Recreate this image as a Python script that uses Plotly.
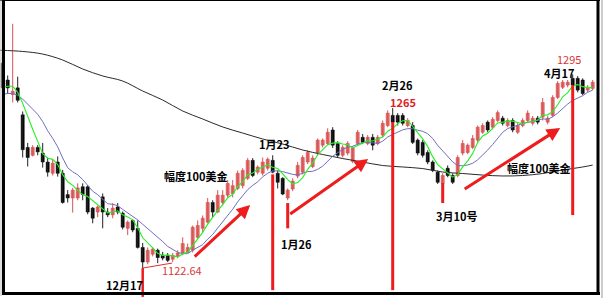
import plotly.graph_objects as go
import pandas as pd

W, H = 607, 298

# ---------------- data ----------------
opens = [1305, 1290, 1277, 1283, 1259, 1230, 1223, 1230, 1225, 1217,
         1207, 1217, 1207, 1188, 1185, 1185, 1195, 1195, 1176, 1172.5,
         1186, 1172.5, 1170, 1177, 1171.5, 1158, 1165, 1158, 1141, 1128,
         1135, 1138.5, 1134, 1134, 1130.5, 1133, 1136, 1136.5, 1138.5, 1150,
         1158, 1163.5, 1181, 1172.5, 1181, 1187.5, 1189, 1193.5, 1196, 1202.5,
         1218.5, 1208, 1207, 1211.5, 1218.5, 1207, 1202.5, 1185, 1193, 1204.5,
         1208, 1217, 1213, 1225, 1232, 1233.5, 1245.5, 1233.5, 1223, 1225,
         1217.5, 1233.5, 1239, 1233.5, 1239, 1233.5, 1241, 1249.5, 1258.5, 1258.5,
         1258.5, 1249.5, 1249.5, 1236.5, 1234.5, 1225.5, 1217, 1208, 1198, 1211.5,
         1205, 1205, 1225, 1225.5, 1230, 1236.5, 1243.5, 1252.5, 1248, 1254,
         1256, 1249.5, 1254, 1243.5, 1249.5, 1254, 1251.5, 1256, 1257, 1252.5,
         1258.5, 1274.5, 1283.5, 1285.5, 1291.5, 1291.5, 1290, 1281, 1282.5]
highs = [1308, 1294, 1340, 1293, 1262, 1234, 1232, 1232, 1234, 1221,
         1219, 1222, 1210, 1192, 1194, 1198, 1198, 1196.5, 1177, 1178.5,
         1189, 1176, 1180.5, 1180.5, 1173, 1165, 1166, 1165, 1145, 1141,
         1141, 1140, 1137, 1136, 1136, 1138.5, 1150, 1144.5, 1160.5, 1165,
         1169.5, 1185, 1183, 1192, 1192, 1201, 1201, 1209.5, 1211.5, 1220.5,
         1220.5, 1214, 1221, 1221, 1223, 1209.5, 1203.5, 1193.5, 1202.5, 1217,
         1223, 1227.5, 1223, 1238, 1238, 1247, 1248, 1235.5, 1232, 1235.5,
         1231, 1245.5, 1242, 1241, 1242, 1241, 1254, 1263, 1265, 1260.5,
         1260.5, 1256, 1252.5, 1238, 1236.5, 1227.5, 1218.5, 1209.5, 1207, 1214,
         1207, 1223, 1236.5, 1233.5, 1241, 1249.5, 1251.5, 1254, 1257, 1263,
         1258, 1256, 1256, 1251.5, 1256, 1263, 1258, 1258, 1274, 1258,
         1276.5, 1289, 1290, 1290, 1295, 1293.5, 1291.5, 1285.5, 1290]
lows = [1279, 1278, 1270, 1270, 1221, 1213, 1222, 1223, 1212, 1204,
        1205, 1204, 1180, 1181, 1172, 1183, 1183, 1170.5, 1162.5, 1168,
        1158, 1168, 1167, 1170.5, 1157, 1152, 1154.5, 1140, 1122.64, 1126,
        1133, 1127, 1129.5, 1128, 1128, 1131.5, 1134, 1136, 1136.5, 1149,
        1154.5, 1162.5, 1168, 1171.5, 1178.5, 1185, 1185.5, 1192, 1193.5, 1201,
        1203.5, 1206, 1205, 1209.5, 1207, 1193.5, 1187.5, 1183, 1191, 1202.5,
        1206, 1215, 1211.5, 1223, 1230, 1232, 1229.5, 1221, 1221, 1223,
        1216, 1232, 1233, 1232, 1227.5, 1232, 1239, 1248, 1249.5, 1249.5,
        1249.5, 1248, 1233, 1223, 1221, 1215, 1208, 1197.5, 1196.5, 1203.5,
        1197.5, 1203.5, 1223, 1224, 1228.5, 1234.5, 1242, 1243.5, 1246, 1252.5,
        1249.5, 1248, 1243.5, 1242, 1248, 1252.5, 1249.5, 1250.5, 1254, 1250.5,
        1257, 1273, 1282, 1283.5, 1283.5, 1279, 1276.5, 1279, 1281]
closes = [1283, 1283, 1280, 1272, 1228, 1221, 1230, 1226, 1217, 1208,
          1216, 1207, 1181, 1185, 1192, 1194, 1188, 1172.5, 1167, 1177,
          1172.5, 1170, 1176, 1172.5, 1159, 1163.5, 1156.5, 1141, 1128, 1138.5,
          1139.5, 1132, 1131.5, 1129.5, 1134, 1136, 1144.5, 1141, 1159, 1160.5,
          1167, 1181, 1172.5, 1187.5, 1187.5, 1198, 1196, 1207, 1209.5, 1218.5,
          1205, 1212.5, 1217, 1219.5, 1208, 1199, 1188.5, 1192, 1200, 1214,
          1221, 1225.5, 1220.5, 1236.5, 1236.5, 1243.5, 1232, 1223, 1230, 1233.5,
          1229.5, 1243.5, 1234.5, 1239, 1232, 1239, 1251.5, 1260.5, 1252.5, 1252.5,
          1251.5, 1254, 1234.5, 1225, 1223, 1217, 1209.5, 1199, 1205, 1205,
          1199, 1221, 1233.5, 1232, 1238, 1248, 1249.5, 1245.5, 1255, 1261,
          1251.5, 1254, 1245.5, 1249.5, 1254, 1260.5, 1256, 1252.5, 1270, 1256,
          1274.5, 1287, 1288, 1288, 1285.5, 1281, 1278, 1283.5, 1288]

# moving-average values visible before a full window exists
ma5_head = [1283.5, 1284.5, 1284.5, 1279]
ma10_head = [1277.3, 1278, 1278, 1276.5, 1273, 1268.5, 1264, 1259.5, 1253]

# long moving average (black line), read at sample candles
ma_long_idx = [-0.5, 4, 8, 12, 16, 20, 24, 28, 32, 36, 40, 44, 48, 52, 56, 60,
               64, 68, 72, 76, 80, 84, 88, 92, 96, 100, 104, 108, 112, 116, 118]
ma_long_val = [1316.5, 1315.4, 1313.1, 1307.8, 1299.8, 1293.6, 1289.1, 1280.2,
               1272.2, 1262.4, 1255.3, 1248.2, 1242.8, 1237.5, 1233, 1227.7,
               1223.7, 1220.1, 1217, 1213.9, 1212.6, 1211.2, 1208.1, 1206.8,
               1205.4, 1204.6, 1205, 1206.8, 1209.9, 1212.6, 1214.3]

# event markers: vertical red lines (candle index, top price, bottom price)
vline_idx = [28, 54, 57, 78, 88, 114]
vline_top = [1122.64, 1206, 1180.5, 1252.6, 1198.3, 1285.5]
vline_bot = [1097, 1103, 1158, 1103, 1180.5, 1169.8]
vline_w = [2.5, 3, 3, 3, 3, 3]

# red trend arrows (tail index, tail price, tip index, tip price)
arrow_tail_idx = [38.1, 57.2, 92.1]
arrow_tail_val = [1131.6, 1169.8, 1192.1]
arrow_tip_idx = [49.5, 73.1, 111.5]
arrow_tip_val = [1178.7, 1219.7, 1247.3]

# thin red segment at the low
seg_idx = [28, 33.9]
seg_val = [1122.64, 1127.1]

# text labels
label_text = ["12月17", "1122.64", "幅度100美金", "1月23", "1月26", "2月26",
              "1265", "3月10号", "4月17", "1295", "幅度100美金"]
label_idx = [24.3, 35.9, 38.5, 54.3, 58.7, 78.9, 80.1, 90.7, 111.3, 113.3, 107.1]
label_val = [1107.6, 1120.9, 1204.6, 1233.0, 1144.0, 1285.5, 1270.4, 1168.9,
             1296.0, 1308.6, 1211.7]
label_color = ["#000000", "#d83a3a", "#000000", "#000000", "#000000", "#000000",
               "#dd2222", "#000000", "#000000", "#dd3333", "#000000"]
label_bold = [True, False, True, True, True, True, True, True, True, False, True]

# ---------------- build ----------------
n = len(closes)
idx = list(range(n))

cl = pd.Series(closes, dtype=float)
ma5 = cl.rolling(5).mean().tolist()
ma10 = cl.rolling(10).mean().tolist()
for k, v in enumerate(ma5_head):
    ma5[k] = v
for k, v in enumerate(ma10_head):
    ma10[k] = v

up = [c >= o for o, c in zip(opens, closes)]

RED_BODY = "#e46a6a"
RED_WICK = "#d95050"
BLK = "#000000"

fig = go.Figure()


def wick_trace(sel, color):
    xs, ys = [], []
    for i in idx:
        if sel(i):
            xs += [i, i, None]
            ys += [lows[i], highs[i], None]
    return go.Scatter(x=xs, y=ys, mode="lines", line=dict(color=color, width=1),
                      hoverinfo="skip", showlegend=False)


fig.add_trace(wick_trace(lambda i: up[i], RED_WICK))
fig.add_trace(wick_trace(lambda i: not up[i], "#222222"))

for is_up, color, lc in [(True, RED_BODY, "#cc4040"), (False, BLK, BLK)]:
    xs = [i for i in idx if up[i] == is_up]
    base = [min(opens[i], closes[i]) for i in xs]
    hgt = [abs(closes[i] - opens[i]) for i in xs]
    fig.add_trace(go.Bar(x=xs, y=hgt, base=base, width=0.62,
                         marker=dict(color=color, line=dict(color=lc, width=0.5)),
                         hoverinfo="skip", showlegend=False))

fig.add_trace(go.Scatter(x=ma_long_idx, y=ma_long_val, mode="lines",
                         line=dict(color="#2a2a2a", width=1, shape="spline"),
                         hoverinfo="skip", showlegend=False))
fig.add_trace(go.Scatter(x=idx, y=ma10, mode="lines",
                         line=dict(color="#6f6fc0", width=1),
                         hoverinfo="skip", showlegend=False))
fig.add_trace(go.Scatter(x=idx, y=ma5, mode="lines",
                         line=dict(color="#22f022", width=1.1),
                         hoverinfo="skip", showlegend=False))

# thin red segment
fig.add_trace(go.Scatter(x=seg_idx, y=seg_val, mode="lines",
                         line=dict(color="#e03030", width=1),
                         hoverinfo="skip", showlegend=False))

shapes = []
for xi, yt, yb, lw in zip(vline_idx, vline_top, vline_bot, vline_w):
    shapes.append(dict(type="line", xref="x", yref="y", x0=xi, x1=xi, y0=yt, y1=yb,
                       line=dict(color="#ee1c1c", width=lw), layer="above"))


def px_x(p):
    return p / W


def px_y(p):
    return 1 - p / H


# frame
shapes += [
    dict(type="line", xref="paper", yref="paper", x0=px_x(0), x1=px_x(600),
         y0=px_y(0.5), y1=px_y(0.5), line=dict(color="#000", width=1)),
    dict(type="line", xref="paper", yref="paper", x0=px_x(3.5), x1=px_x(3.5),
         y0=px_y(0), y1=px_y(295), line=dict(color="#000", width=3)),
    dict(type="line", xref="paper", yref="paper", x0=px_x(1), x1=px_x(1),
         y0=px_y(0), y1=px_y(296), line=dict(color="#bbbbbb", width=1)),
    dict(type="line", xref="paper", yref="paper", x0=px_x(2), x1=px_x(600),
         y0=px_y(293.5), y1=px_y(293.5), line=dict(color="#000", width=3)),
    dict(type="line", xref="paper", yref="paper", x0=px_x(598), x1=px_x(598),
         y0=px_y(0), y1=px_y(295), line=dict(color="#000", width=3)),
    dict(type="line", xref="paper", yref="paper", x0=px_x(602), x1=px_x(602),
         y0=px_y(0), y1=px_y(298), line=dict(color="#999999", width=1)),
]

annotations = []
for tx, ty, hx, hy in zip(arrow_tail_idx, arrow_tail_val, arrow_tip_idx, arrow_tip_val):
    annotations.append(dict(x=hx, y=hy, ax=tx, ay=ty, xref="x", yref="y",
                            axref="x", ayref="y", text="", showarrow=True,
                            arrowhead=2, arrowsize=0.9, arrowwidth=3,
                            arrowcolor="#ee1c1c", standoff=0, startstandoff=0))

for t, xi, yv, c, b in zip(label_text, label_idx, label_val, label_color, label_bold):
    annotations.append(dict(x=xi, y=yv, xref="x", yref="y", showarrow=False,
                            text=f"<b>{t}</b>" if b else t,
                            font=dict(family="Noto Sans CJK SC", size=11, color=c),
                            xanchor="center", yanchor="middle"))

fig.update_layout(
    width=W, height=H,
    margin=dict(l=0, r=0, t=0, b=0),
    paper_bgcolor="white", plot_bgcolor="white",
    barmode="overlay", showlegend=False,
    xaxis=dict(range=[-0.54, 120.86], visible=False, fixedrange=True),
    yaxis=dict(range=[1096.0, 1361.2], visible=False, fixedrange=True),
    shapes=shapes, annotations=annotations,
)

fig.write_html("out.html")
